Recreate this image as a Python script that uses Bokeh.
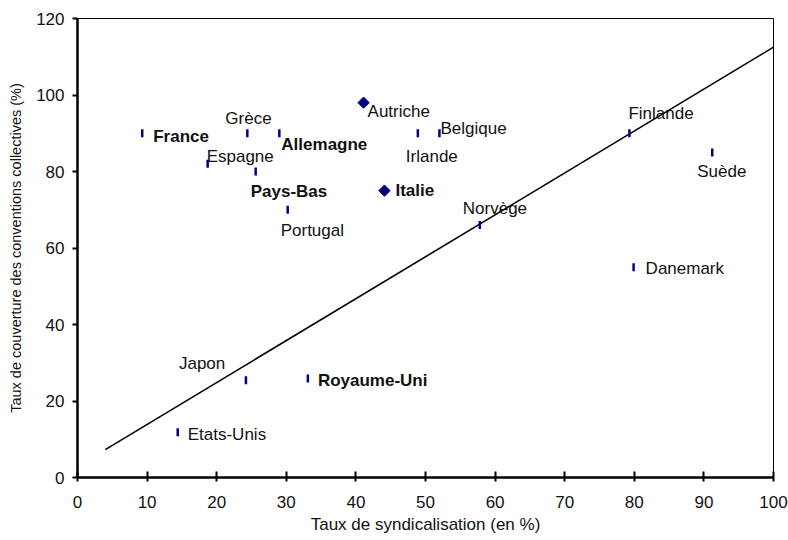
import math
from bokeh.plotting import figure
from bokeh.models import ColumnDataSource, FixedTicker, Range1d
from bokeh.core.properties import value
from bokeh.embed import file_html
from bokeh.resources import INLINE

# ---- data ----
pays = ["France", "Grèce", "Allemagne", "Espagne", "Pays-Bas", "Portugal",
        "Autriche", "Italie", "Irlande", "Belgique", "Finlande", "Suède",
        "Norvège", "Danemark", "Japon", "Royaume-Uni", "Etats-Unis"]
syndicalisation = [9.3, 24.4, 29.0, 18.7, 25.6, 30.2, 41.1, 44.1, 48.9, 52.0,
                   79.3, 91.2, 57.8, 79.9, 24.2, 33.1, 14.4]
couverture = [90, 90, 90, 82, 80, 70, 98, 75, 90, 90, 90, 85, 66, 55, 25.4,
              25.9, 11.8]
losange = ["Autriche", "Italie"]
gras = ["France", "Allemagne", "Pays-Bas", "Italie", "Royaume-Uni"]

tendance_x = [4, 100]
tendance_y = [7.3, 112.5]

x_ticks = [0, 10, 20, 30, 40, 50, 60, 70, 80, 90, 100]
y_ticks = [0, 20, 40, 60, 80, 100, 120]

# label offsets (screen px) -- styling only
dx = [11, -22, 2, -1, -5, -7, 4, 11, -12, 1, -1, -15, -17, 12, -67, 10, 10]
dy = [3, -15, 11, -7, 20, 21, 9, 0, 23, -5, -20, 19, -17, 1, -17, 2, 2]

FONT = value("Liberation Sans")
NAVY = "#000080"

p = figure(width=788, height=540, output_backend="svg", toolbar_location=None,
           x_range=Range1d(0, 100), y_range=Range1d(0, 120),
           min_border_left=77, min_border_right=15, min_border_top=18,
           min_border_bottom=63)
p.grid.visible = False
p.outline_line_color = "black"
p.outline_line_width = 1
p.background_fill_color = "white"
p.border_fill_color = "white"

# axes
p.xaxis.ticker = FixedTicker(ticks=x_ticks)
p.yaxis.ticker = FixedTicker(ticks=y_ticks)
for ax in (p.xaxis[0], p.yaxis[0]):
    ax.axis_line_width = 2.5
    ax.axis_line_color = "black"
    ax.major_tick_line_width = 2
    ax.major_tick_line_color = "black"
    ax.minor_tick_line_color = None
    ax.major_label_text_font = "Liberation Sans"
    ax.major_label_text_font_size = "17px"
    ax.major_label_text_color = "#111111"
    ax.axis_label_text_font = "Liberation Sans"
    ax.axis_label_text_font_style = "normal"
    ax.axis_label_text_color = "#111111"

p.xaxis.major_tick_in = 6
p.xaxis.major_tick_out = 4
p.xaxis.major_label_standoff = 14
p.xaxis.axis_label = "Taux de syndicalisation (en %)"
p.xaxis.axis_label_text_font_size = "17px"
p.xaxis.axis_label_standoff = 4

p.yaxis.major_tick_in = 0
p.yaxis.major_tick_out = 5
p.yaxis.major_label_standoff = 8
p.yaxis.axis_label = "Taux de couverture des conventions collectives (%)"
p.yaxis.axis_label_text_font_size = "14.5px"
p.yaxis.axis_label_standoff = 9

# trend line
p.line(tendance_x, tendance_y, line_color="black", line_width=1.6)

# points
idx_d = [i for i, n in enumerate(pays) if n in losange]
idx_t = [i for i, n in enumerate(pays) if n not in losange]
src_t = ColumnDataSource(dict(x=[syndicalisation[i] for i in idx_t],
                              y=[couverture[i] for i in idx_t]))
src_d = ColumnDataSource(dict(x=[syndicalisation[i] for i in idx_d],
                              y=[couverture[i] for i in idx_d]))
p.scatter("x", "y", source=src_t, marker="dash", size=8, angle=math.pi / 2,
          line_color=NAVY, line_width=2.5)
p.scatter("x", "y", source=src_d, marker="square", size=8, angle=math.pi / 4,
          fill_color=NAVY, line_color=NAVY, line_width=1)

# labels
for bold in (False, True):
    ids = [i for i, n in enumerate(pays) if (n in gras) == bold]
    src = ColumnDataSource(dict(x=[syndicalisation[i] for i in ids],
                                y=[couverture[i] for i in ids],
                                t=[pays[i] for i in ids],
                                dx=[dx[i] for i in ids],
                                dy=[dy[i] for i in ids]))
    p.text("x", "y", text="t", source=src, x_offset="dx", y_offset="dy",
           text_font=FONT, text_font_size="17px",
           text_font_style="bold" if bold else "normal",
           text_color="#111111", text_align="left", text_baseline="middle")

open("out.html", "w").write(file_html(p, INLINE))
